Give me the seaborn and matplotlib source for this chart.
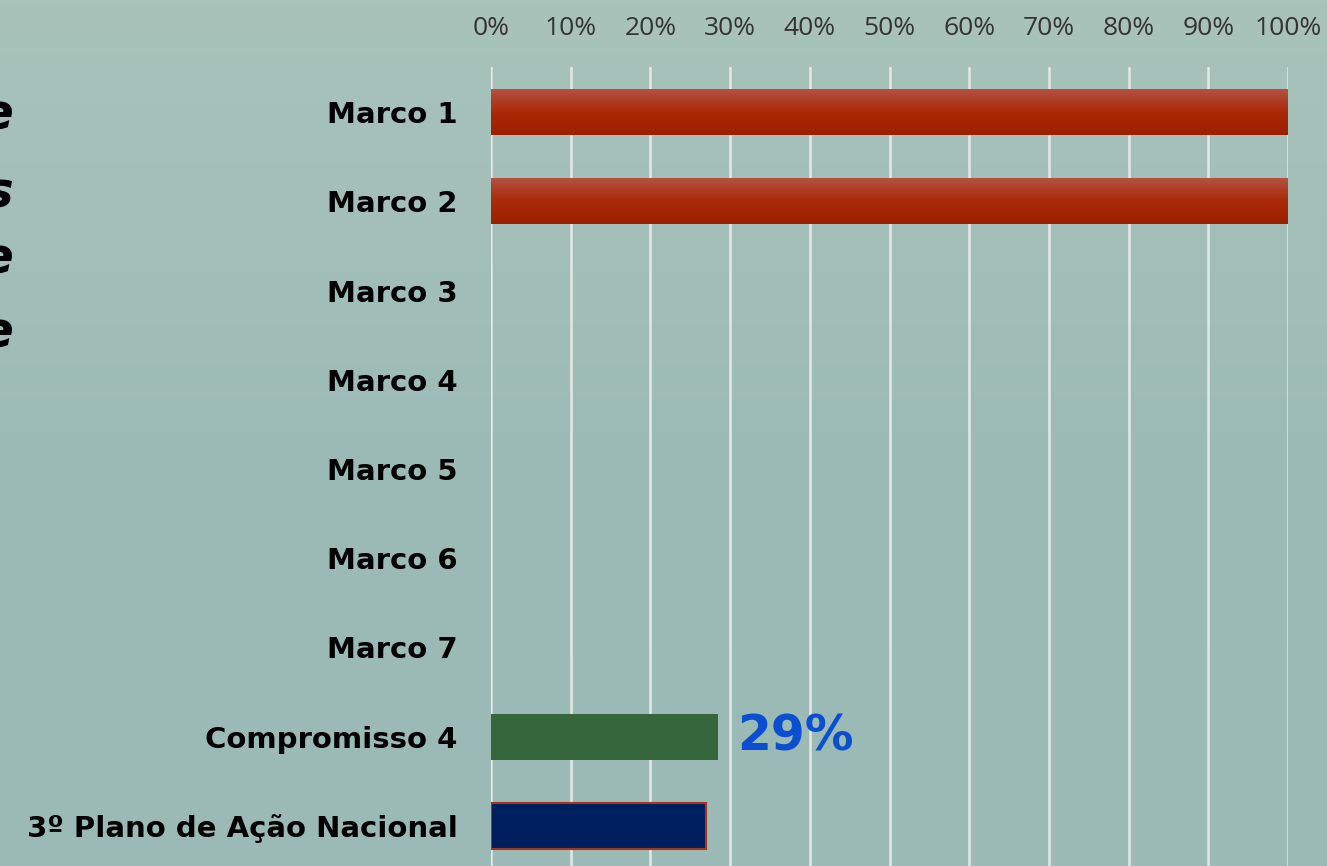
import numpy as np
import matplotlib
matplotlib.use("Agg")
import matplotlib.pyplot as plt
import seaborn as sns
from matplotlib.colors import LinearSegmentedColormap

categories = ["Marco 1", "Marco 2", "Marco 3", "Marco 4", "Marco 5", "Marco 6",
              "Marco 7", "Compromisso 4", "3º Plano de Ação Nacional"]
values = [100, 100, 0, 0, 0, 0, 0, 28.5, 27]
label_text = "29%"
label_index = 7
bar_colors = ["#a82a08", "#a82a08", "#a82a08", "#a82a08", "#a82a08", "#a82a08",
              "#a82a08", "#35663c", "#001f5f"]
x_ticks = [0, 10, 20, 30, 40, 50, 60, 70, 80, 90, 100]
x_tick_labels = [f"{t}%" for t in x_ticks]
side_fragments = ["e", "s", "e", "e"]

sns.set_theme(style="white")
plt.rcParams['font.family'] = ['DejaVu Sans']

W, H = 1327, 866
fig = plt.figure(figsize=(W / 100, H / 100), dpi=100)

# background gradient
bg = fig.add_axes([0, 0, 1, 1], zorder=-10)
grad = np.linspace(0, 1, 256).reshape(-1, 1)
bg_cmap = LinearSegmentedColormap.from_list("bg", ["#a9c3ba", "#9dbbb6", "#9bbab5"])
bg.imshow(grad, aspect="auto", cmap=bg_cmap, extent=[0, 1, 0, 1], origin="upper")
bg.set_axis_off()

ax = fig.add_axes([491 / W, 1 - 870.6 / H, 797 / W, (870.6 - 67.4) / H])
ax.patch.set_alpha(0)

sns.barplot(x=values, y=categories, hue=categories, palette=bar_colors,
            legend=False, orient="h", width=0.52, ax=ax, saturation=1,
            linewidth=0, edgecolor="none")

ax.set_xlim(0, 100)
ax.set_ylim(len(categories) - 0.5, -0.5)
ax.xaxis.tick_top()
ax.set_xticks(x_ticks)
ax.set_xticklabels(x_tick_labels, fontsize=19, color="#333333",
                   family=["Open Sans", "DejaVu Sans"])
ax.tick_params(axis="x", length=0, pad=19)
ax.tick_params(axis="y", length=0, pad=24)
for lab in ax.get_yticklabels():
    lab.set_fontsize(21)
    lab.set_fontweight("bold")
    lab.set_color("black")
ax.set_xlabel("")
ax.set_ylabel("")
ax.grid(axis="x", color="#e4e8e6", linewidth=1.8)
ax.grid(axis="y", visible=False)
ax.set_axisbelow(True)
for s in ax.spines.values():
    s.set_visible(False)

red_cmap = LinearSegmentedColormap.from_list("red", ["#b45444", "#aa2a08", "#9c1f00"])
for p in ax.patches:
    if p.get_width() <= 0:
        p.set_visible(False)
        continue
    fc = matplotlib.colors.to_hex(p.get_facecolor())
    if fc == "#a82a08":
        x0, y0 = p.get_x(), p.get_y()
        w, h = p.get_width(), p.get_height()
        im = ax.imshow(grad, aspect="auto", cmap=red_cmap,
                       extent=[x0, x0 + w, y0 + h, y0], origin="upper", zorder=3)
        im.set_clip_path(p)
    elif fc == "#001f5f":
        p.set_edgecolor("#a8351a")
        p.set_linewidth(1.5)
ax.set_xlim(0, 100)
ax.set_ylim(len(categories) - 0.5, -0.5)

ax.text(values[label_index] + 2.4, label_index, label_text, color="#0a4fd0",
        fontsize=35, fontweight="bold", va="center", ha="left",
        family=["DejaVu Sans"])

frag_y = [116, 194, 260, 333]
for t, yy in zip(side_fragments, frag_y):
    fig.text(13 / W, 1 - yy / H, t, fontsize=36, fontweight="bold", fontstyle="oblique",
             ha="right", va="center", color="black", family=["DejaVu Sans"])

fig.savefig("out.png", dpi=100)
